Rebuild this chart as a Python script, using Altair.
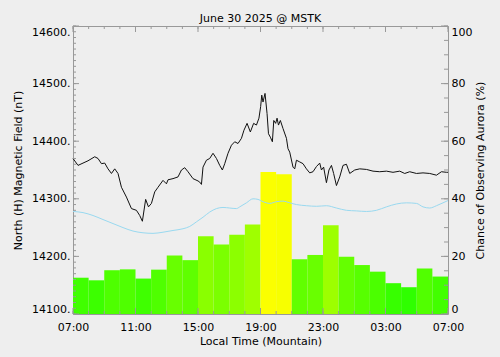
import altair as alt
import pandas as pd

# ---------------- data ----------------
bar_start = list(range(24))
chance = [12.6, 11.7, 15.2, 15.5, 12.3, 15.4, 20.3, 18.7, 27.0, 24.1, 27.5, 31.1,
          49.3, 48.5, 19.0, 20.5, 30.8, 19.9, 17.0, 14.7, 10.7, 9.3, 15.8, 13.0]

mag_h = [0.00, 0.32, 0.64, 0.96, 1.39, 1.60, 1.82, 2.03, 2.24, 2.46,
         2.67, 2.88, 3.10, 3.42, 3.74, 4.06, 4.27, 4.44, 4.65, 4.83,
         5.02, 5.23, 5.44, 5.76, 5.98, 6.08, 6.40, 6.72, 6.94, 7.15,
         7.36, 7.68, 8.00, 8.11, 8.22, 8.32, 8.54, 8.75, 8.96, 9.18,
         9.39, 9.56, 9.71, 9.92, 10.14, 10.35, 10.56, 10.78, 10.94, 11.14,
         11.35, 11.56, 11.74, 11.90, 12.01, 12.08, 12.16, 12.29, 12.42, 12.51,
         12.63, 12.76, 12.85, 12.97, 13.06, 13.15, 13.27, 13.44, 13.66, 13.76,
         13.87, 14.08, 14.19, 14.30, 14.51, 14.72, 14.94, 15.15, 15.36, 15.58,
         15.79, 15.90, 16.04, 16.22, 16.38, 16.54, 16.68, 16.86, 17.07, 17.28,
         17.50, 17.71, 18.03, 18.35, 18.78, 19.20, 19.63, 20.06, 20.48, 20.91,
         21.23, 21.55, 21.98, 22.40, 22.83, 23.26, 23.58, 23.90, 24.00]
mag_v = [14370, 14358, 14362, 14366, 14373, 14370, 14361, 14362, 14352, 14344,
         14352, 14344, 14320, 14303, 14283, 14280, 14271, 14261, 14299, 14286,
         14292, 14312, 14320, 14332, 14326, 14333, 14335, 14338, 14350, 14354,
         14347, 14335, 14331, 14329, 14325, 14355, 14367, 14370, 14379, 14370,
         14358, 14350, 14361, 14379, 14393, 14399, 14396, 14405, 14419, 14431,
         14416, 14431, 14428, 14440, 14460, 14480, 14468, 14483, 14448, 14413,
         14407, 14399, 14436, 14431, 14440, 14428, 14436, 14422, 14405, 14387,
         14381, 14355, 14352, 14367, 14364, 14361, 14352, 14345, 14347, 14356,
         14362, 14350, 14355, 14328, 14350, 14358, 14344, 14323, 14338, 14358,
         14360, 14344, 14350, 14352, 14351, 14348, 14347, 14348, 14346, 14348,
         14344, 14347, 14344, 14345, 14344, 14341, 14347, 14346, 14346]

base_h = [0, 0.64, 1.28, 1.92, 2.56, 3.20, 3.84, 4.48, 5.12, 5.76,
          6.40, 7.04, 7.47, 7.90, 8.32, 8.75, 9.18, 9.60, 10.03, 10.46,
          10.67, 11.10, 11.52, 11.84, 12.16, 12.59, 13.02, 13.44, 13.87, 14.30,
          14.94, 15.58, 16.22, 16.86, 17.50, 18.14, 18.78, 19.42, 20.06, 20.70,
          21.34, 21.98, 22.40, 22.83, 23.26, 23.68, 24.0]
base_v = [14278, 14276, 14271, 14264, 14257, 14250, 14244, 14241, 14240, 14242,
          14245, 14248, 14252, 14260, 14268, 14277, 14283, 14285, 14284, 14283,
          14286, 14293, 14300, 14299, 14295, 14292, 14295, 14296, 14293, 14290,
          14288, 14287, 14288, 14284, 14280, 14279, 14278, 14280, 14286, 14291,
          14293, 14292, 14286, 14284, 14288, 14293, 14297]

x_tick_labels = ["07:00", "11:00", "15:00", "19:00", "23:00", "03:00", "07:00"]
nt_ticks = [14100, 14200, 14300, 14400, 14500, 14600]
pct_ticks = [0, 20, 40, 60, 80, 100]
x_minor = list(range(25))
x_major = [0, 4, 8, 12, 16, 20, 24]
nt_minor = list(range(14100, 14601, 10))
pct_minor = list(range(0, 101, 5))

title_text = "June 30 2025 @ MSTK"
x_title = "Local Time (Mountain)"
left_title = "North (H) Magnetic Field (nT)"
right_title = "Chance of Observing Aurora (%)"

# ---------------- frames ----------------
W, H = 375, 288
FONT = "DejaVu Sans"
GRAY = "#999999"

bars_df = pd.DataFrame({"h": bar_start, "h2": [s + 1 for s in bar_start], "pct": chance})
mag_df = pd.DataFrame({"h": mag_h, "v": mag_v})
base_df = pd.DataFrame({"h": base_h, "v": base_v})
xmin_df = pd.DataFrame({"h": x_minor})
xmaj_df = pd.DataFrame({"h": x_major})
ntmin_df = pd.DataFrame({"v": nt_minor})
ntmaj_df = pd.DataFrame({"v": nt_ticks})
pctmin_df = pd.DataFrame({"pct": pct_minor})
pctmaj_df = pd.DataFrame({"pct": pct_ticks})

lab_arr = "[" + ",".join("'" + s + "'" for s in x_tick_labels) + "]"
x_axis = alt.Axis(values=x_major, labelExpr=lab_arr + "[round(datum.value/4)]",
                  ticks=False, domain=False, grid=False, title=x_title,
                  labelPadding=7, titlePadding=3, labelFlush=False)
x_scale = alt.Scale(domain=[0, 24], nice=False, zero=False)
X = alt.X("h:Q", scale=x_scale, axis=x_axis)

nt_scale = alt.Scale(domain=[14100, 14600], nice=False, zero=False)
nt_axis = alt.Axis(orient="left", values=nt_ticks, labelExpr="datum.value + '.'",
                   ticks=False, domain=False, grid=False, title=left_title,
                   labelPadding=3, titlePadding=8, labelFlush=True)
Ynt = alt.Y("v:Q", scale=nt_scale, axis=nt_axis)

pct_scale = alt.Scale(domain=[0, 100], nice=False, zero=True)
pct_axis = alt.Axis(orient="right", values=pct_ticks, ticks=False, domain=False,
                    grid=False, title=right_title, titleAngle=270, titleBaseline="top",
                    labelPadding=3, titlePadding=3, labelFlush=True)
Ypct = alt.Y("pct:Q", scale=pct_scale, axis=pct_axis)

bars = alt.Chart(bars_df).mark_rect().encode(
    x=X, x2="h2:Q", y=Ypct, y2=alt.datum(0),
    color=alt.Color("pct:Q", scale=alt.Scale(domain=[0, 50], range=["#00ff00", "#ffff00"],
                                             interpolate="rgb", clamp=True), legend=None),
)

def xticks(df, length, top):
    if top:
        enc = dict(y=alt.value(0), y2=alt.value(length))
    else:
        enc = dict(y=alt.value(H), y2=alt.value(H - length))
    return alt.Chart(df).mark_rule(color=GRAY, strokeWidth=1).encode(x=X, **enc)

pct_ticks_min = alt.Chart(pctmin_df).mark_rule(color=GRAY).encode(
    y=Ypct, x=alt.value(W), x2=alt.value(W - 4))
pct_ticks_maj = alt.Chart(pctmaj_df).mark_rule(color=GRAY).encode(
    y=Ypct, x=alt.value(W), x2=alt.value(W - 7))

pct_group = alt.layer(bars, pct_ticks_min, pct_ticks_maj,
                      xticks(xmin_df, 3, False), xticks(xmaj_df, 6, False),
                      xticks(xmin_df, 3, True), xticks(xmaj_df, 6, True))

base_line = alt.Chart(base_df).mark_line(color="#99d9f0", strokeWidth=1,
                                         interpolate="monotone").encode(x=X, y=Ynt)
mag_line = alt.Chart(mag_df).mark_line(color="#111111", strokeWidth=1).encode(x=X, y=Ynt)
nt_ticks_min = alt.Chart(ntmin_df).mark_rule(color=GRAY).encode(
    y=Ynt, x=alt.value(0), x2=alt.value(3))
nt_ticks_maj = alt.Chart(ntmaj_df).mark_rule(color=GRAY).encode(
    y=Ynt, x=alt.value(0), x2=alt.value(6))

nt_group = alt.layer(base_line, mag_line, nt_ticks_min, nt_ticks_maj)

chart = alt.layer(pct_group, nt_group).resolve_scale(y="independent").properties(
    width=W, height=H,
    title=alt.TitleParams(title_text, anchor="middle", offset=2, fontSize=11,
                          fontWeight="normal", font=FONT, color="#000000"),
    autosize=alt.AutoSizeParams(type="none"),
    padding={"left": 73, "top": 26, "right": 52, "bottom": 43},
    background="#eeeeee",
).configure_view(
    stroke=GRAY, strokeWidth=1, fill="#eeeeee"
).configure_axis(
    labelFont=FONT, titleFont=FONT, labelFontSize=11, titleFontSize=11,
    labelColor="#000000", titleColor="#000000", titleFontWeight="normal",
)

chart.save("out.html", embed_options={"renderer": "svg", "actions": False})
